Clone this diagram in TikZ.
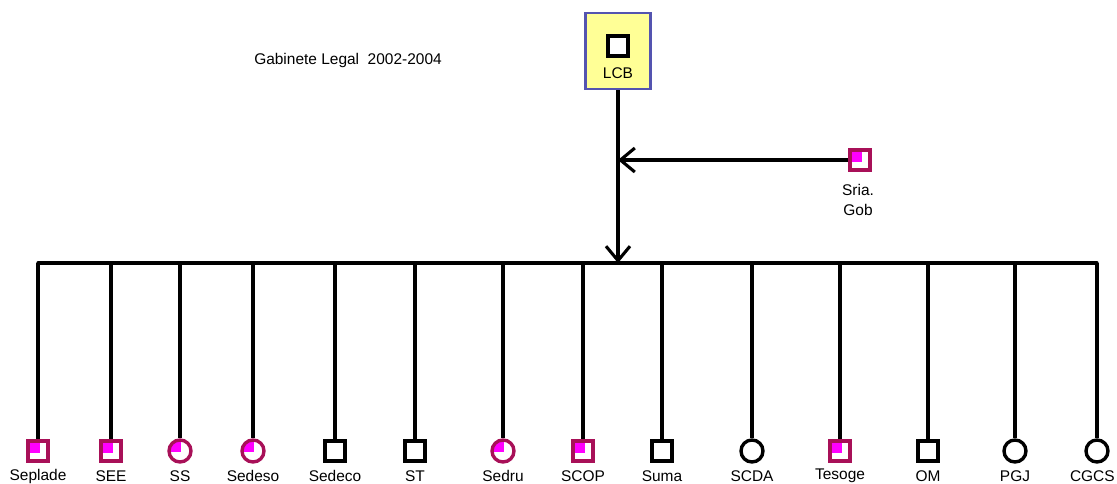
\documentclass[tikz,border=0pt]{standalone}
\usepackage{fontspec}
\setmainfont{Liberation Sans}
\usetikzlibrary{arrows.meta,positioning,calc}

\definecolor{pinkfill}{RGB}{255,0,255}
\definecolor{wine}{RGB}{168,16,88}
\definecolor{lcbyellow}{RGB}{255,255,150}
\definecolor{lcbedge}{RGB}{84,84,176}

\begin{document}
\begin{tikzpicture}[
            x=0.025cm, y=-0.025cm,
            font=\fontsize{11}{12}\selectfont,
            stem/.style={
                line width=2.3pt,
                black
            },
            barb/.style={
                line width=2.2pt,
                -{Straight Barb[length=0.36cm,width=0.6cm]}
            },
            bsq/.style={
                draw=black,
                line width=2.4pt,
                fill=white,
                minimum size=0.5cm,
                inner sep=0pt
            },
            bci/.style={
                circle,
                draw=black,
                line width=2.4pt,
                fill=white,
                minimum size=0.55cm,
                inner sep=0pt
            },
            msq/.style={
                draw=wine,
                line width=2.4pt,
                fill=white,
                minimum size=0.5cm,
                inner sep=0pt,
                path picture={
                    \fill[pinkfill] (path picture bounding box.north west)
                    rectangle ($(path picture bounding box.center)+(1.5,1.5)$);
                }
            },
            mci/.style={
                circle,
                draw=wine,
                line width=2.4pt,
                fill=white,
                minimum size=0.55cm,
                inner sep=0pt,
                path picture={
                    \fill[pinkfill] ($(path picture bounding box.center)+(1,1)$) -- ($(path picture bounding box.west)+(0,1)$)
                    -- (path picture bounding box.north west) -- ($(path picture bounding box.north)+(1,0)$) -- cycle;
                }
            },
            lbl/.style={
                inner sep=0pt
            }
        ]

% Canvas
            \useasboundingbox (0,0) rectangle (1117,483);

% Layout parameters
            \def\yBus{263}
            \def\yIcon{451}
            \def\yLabel{476}
            \def\xTop{618}

% Title
            \node[lbl] (title) at (348,60) {Gabinete Legal\ \ 2002-2004};

% Head of the cabinet
            \node[draw=lcbedge, fill=lcbyellow, line width=1.8pt,
                minimum width=1.62cm, minimum height=1.9cm, inner sep=0pt] (lcb) at (\xTop,51) {};
            \node[bsq] (lcbicon) at (\xTop,46) {};
            \node[lbl] (lcblbl) at (\xTop,73) {LCB};

% Secretary of government
            \node[msq] (gob) at (860,160) {};
            \node[lbl] (goblbl1) at (858,190) {Sria.};
            \node[lbl] (goblbl2) at (858,210) {Gob};
            \coordinate (gobhit) at (\xTop,160);
            \draw[barb] (gob.west) -- (gobhit);

% Main stem down to the bus
            \coordinate (busmid) at (\xTop,\yBus);
            \draw[barb] (lcb.south) -- (busmid);

% Dependencies: name / x / kind of icon
            \foreach \nm/\xx/\kind in {
                    Seplade/38/msq, SEE/111/msq, SS/180/mci, Sedeso/253/mci,
                    Sedeco/335/bsq, ST/415/bsq, Sedru/503/mci, SCOP/583/msq,
                    Suma/662/bsq, SCDA/752/bci, Tesoge/840/msq, OM/928/bsq,
                    PGJ/1015/bci, CGCS/1097/bci} {
                \coordinate (bus-\nm) at (\xx,\yBus);
                \node[\kind] (\nm) at (\xx,\yIcon) {};
                \draw[stem] (bus-\nm) -- (\nm.north);
            }

% Labels under the icons (the last one kept inside the canvas)
            \foreach \nm in {Seplade,SEE,SS,Sedeso,Sedeco,ST,Sedru,SCOP,Suma,SCDA,Tesoge,OM,PGJ} {
                \node[lbl] (\nm-lbl) at (\nm |- 0,\yLabel) {\nm};
            }
            \node[lbl, anchor=east] (CGCS-lbl) at (1115,\yLabel) {CGCS};

% Horizontal bus
            \draw[stem, line cap=round] (bus-Seplade) -- (bus-CGCS);

        \end{tikzpicture}
\end{document}
